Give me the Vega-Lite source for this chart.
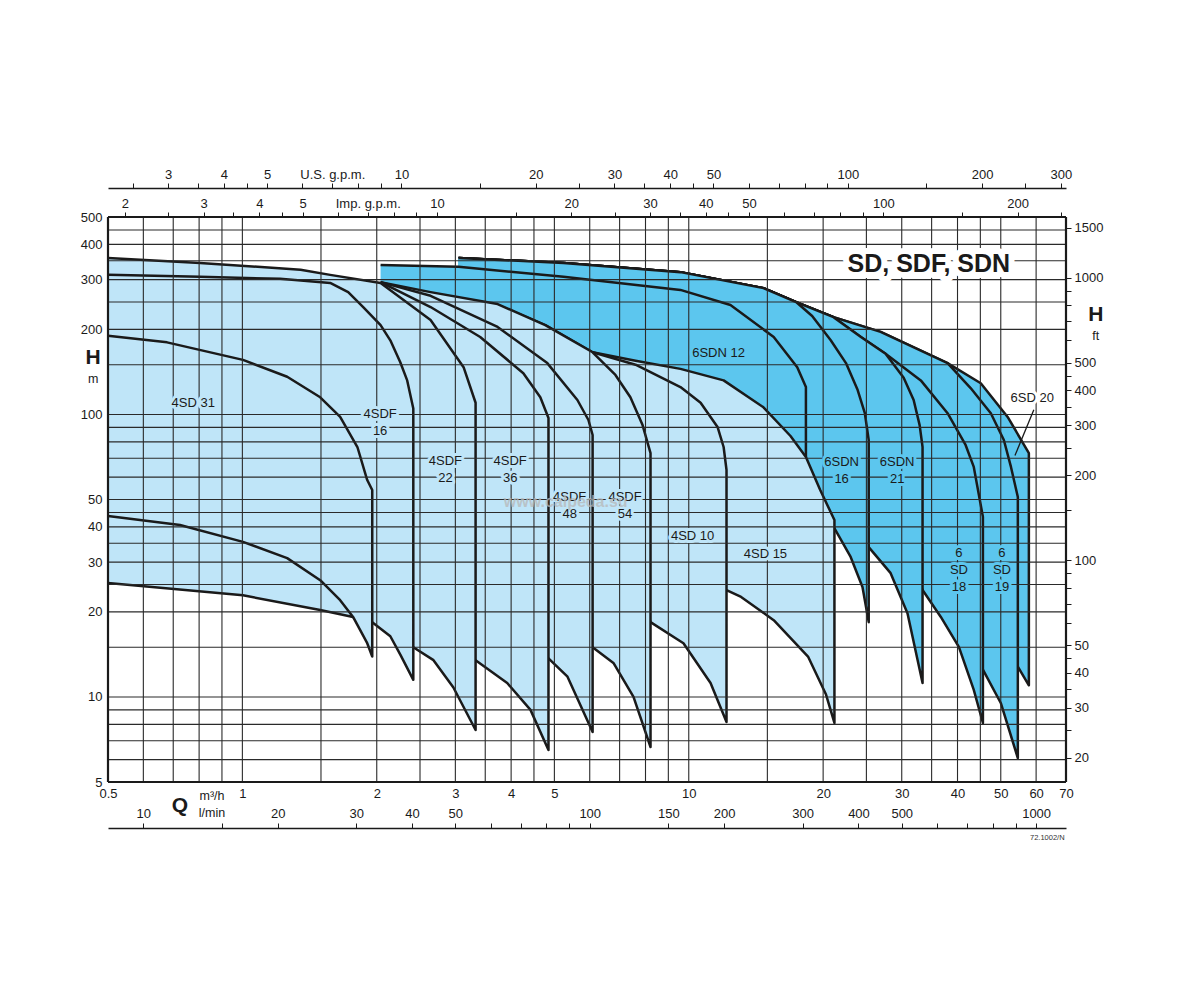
{
  "$schema": "https://vega.github.io/schema/vega-lite/v6.json",
  "width": 958,
  "height": 565,
  "autosize": {"type": "none"},
  "padding": {"left": 108, "top": 217, "right": 134, "bottom": 218},
  "background": "white",
  "config": {
    "view": {"stroke": null},
    "axis": {"labelFont": "Liberation Sans", "labelFontSize": 13, "labelColor": "#1a1a1a", "domainColor": "#1a1a1a", "tickColor": "#1a1a1a", "titleFont": "Liberation Sans"},
    "text": {"font": "Liberation Sans"}
  },
  "datasets": {
    "fam": [
      {"f":"k01","z":"d","o":1,"q":3.05,"h":358},{"f":"k01","z":"d","o":2,"q":5.24,"h":344},{"f":"k01","z":"d","o":3,"q":9.58,"h":319},{"f":"k01","z":"d","o":4,"q":14.7,"h":280},{"f":"k01","z":"d","o":5,"q":17.4,"h":250},{"f":"k01","z":"d","o":6,"q":21.1,"h":221},{"f":"k01","z":"d","o":7,"q":26.9,"h":196},{"f":"k01","z":"d","o":8,"q":38.0,"h":152},{"f":"k01","z":"d","o":9,"q":45.1,"h":129},{"f":"k01","z":"d","o":10,"q":51.8,"h":98},{"f":"k01","z":"d","o":11,"q":57.8,"h":73},{"f":"k01","z":"d","o":12,"q":57.8,"h":11.0},{"f":"k01","z":"d","o":13,"q":54.6,"h":12.8},{"f":"k01","z":"d","o":14,"q":50,"h":18.7},{"f":"k01","z":"d","o":15,"q":29.8,"h":49.8},{"f":"k01","z":"d","o":16,"q":23.05,"h":74.8},{"f":"k01","z":"d","o":17,"q":3.05,"h":254},
      {"f":"k02","z":"d","o":1,"q":3.05,"h":358},{"f":"k02","z":"d","o":2,"q":5.24,"h":344},{"f":"k02","z":"d","o":3,"q":9.58,"h":319},{"f":"k02","z":"d","o":4,"q":14.7,"h":280},{"f":"k02","z":"d","o":5,"q":17.4,"h":250},{"f":"k02","z":"d","o":6,"q":21.1,"h":221},{"f":"k02","z":"d","o":7,"q":26.9,"h":196},{"f":"k02","z":"d","o":8,"q":38.0,"h":152},{"f":"k02","z":"d","o":9,"q":42.8,"h":124},{"f":"k02","z":"d","o":10,"q":47.5,"h":101},{"f":"k02","z":"d","o":11,"q":50.8,"h":81.2},{"f":"k02","z":"d","o":12,"q":52.7,"h":65.2},{"f":"k02","z":"d","o":13,"q":54.6,"h":51},{"f":"k02","z":"d","o":14,"q":54.6,"h":6.08},{"f":"k02","z":"d","o":15,"q":50,"h":9.52},{"f":"k02","z":"d","o":16,"q":45.6,"h":12.5},{"f":"k02","z":"d","o":17,"q":40.7,"h":22},{"f":"k02","z":"d","o":18,"q":29.8,"h":49.8},{"f":"k02","z":"d","o":19,"q":23.05,"h":74.8},{"f":"k02","z":"d","o":20,"q":3.05,"h":254},
      {"f":"k03","z":"d","o":1,"q":3.05,"h":358},{"f":"k03","z":"d","o":2,"q":5.24,"h":344},{"f":"k03","z":"d","o":3,"q":9.58,"h":319},{"f":"k03","z":"d","o":4,"q":14.7,"h":280},{"f":"k03","z":"d","o":5,"q":17.4,"h":250},{"f":"k03","z":"d","o":6,"q":21.1,"h":221},{"f":"k03","z":"d","o":7,"q":24.3,"h":188},{"f":"k03","z":"d","o":8,"q":27.6,"h":164},{"f":"k03","z":"d","o":9,"q":33.1,"h":132},{"f":"k03","z":"d","o":10,"q":38.0,"h":101},{"f":"k03","z":"d","o":11,"q":41.7,"h":78},{"f":"k03","z":"d","o":12,"q":43.5,"h":65.2},{"f":"k03","z":"d","o":13,"q":45.6,"h":43.4},{"f":"k03","z":"d","o":14,"q":45.6,"h":8.09},{"f":"k03","z":"d","o":15,"q":43.5,"h":10.6},{"f":"k03","z":"d","o":16,"q":40.3,"h":15},{"f":"k03","z":"d","o":17,"q":36.7,"h":19.2},{"f":"k03","z":"d","o":18,"q":33.4,"h":23.9},{"f":"k03","z":"d","o":19,"q":29.8,"h":35.9},{"f":"k03","z":"d","o":20,"q":23.05,"h":74.8},{"f":"k03","z":"d","o":21,"q":3.05,"h":254},
      {"f":"k04","z":"d","o":1,"q":3.05,"h":358},{"f":"k04","z":"d","o":2,"q":5.24,"h":344},{"f":"k04","z":"d","o":3,"q":9.58,"h":319},{"f":"k04","z":"d","o":4,"q":14.7,"h":280},{"f":"k04","z":"d","o":5,"q":17.4,"h":250},{"f":"k04","z":"d","o":6,"q":21.1,"h":221},{"f":"k04","z":"d","o":7,"q":24.3,"h":188},{"f":"k04","z":"d","o":8,"q":27.6,"h":164},{"f":"k04","z":"d","o":9,"q":30.3,"h":135},{"f":"k04","z":"d","o":10,"q":31.9,"h":112.5},{"f":"k04","z":"d","o":11,"q":32.9,"h":91.7},{"f":"k04","z":"d","o":12,"q":33.4,"h":76.7},{"f":"k04","z":"d","o":13,"q":33.4,"h":11.2},{"f":"k04","z":"d","o":14,"q":30.9,"h":19.8},{"f":"k04","z":"d","o":15,"q":28.3,"h":27.5},{"f":"k04","z":"d","o":16,"q":25.3,"h":33.9},{"f":"k04","z":"d","o":17,"q":23.05,"h":49.8},{"f":"k04","z":"d","o":18,"q":18.27,"h":95.6},{"f":"k04","z":"d","o":19,"q":3.05,"h":254},
      {"f":"k05","z":"d","o":1,"q":3.05,"h":358},{"f":"k05","z":"d","o":2,"q":5.24,"h":344},{"f":"k05","z":"d","o":3,"q":9.58,"h":319},{"f":"k05","z":"d","o":4,"q":14.7,"h":280},{"f":"k05","z":"d","o":5,"q":17.4,"h":250},{"f":"k05","z":"d","o":6,"q":18.9,"h":223},{"f":"k05","z":"d","o":7,"q":20.8,"h":183},{"f":"k05","z":"d","o":8,"q":22.5,"h":152},{"f":"k05","z":"d","o":9,"q":23.9,"h":122},{"f":"k05","z":"d","o":10,"q":24.8,"h":101},{"f":"k05","z":"d","o":11,"q":25.3,"h":81.2},{"f":"k05","z":"d","o":12,"q":25.3,"h":18.4},{"f":"k05","z":"d","o":13,"q":24.5,"h":24.5},{"f":"k05","z":"d","o":14,"q":23.05,"h":31.3},{"f":"k05","z":"d","o":15,"q":21.3,"h":39},{"f":"k05","z":"d","o":16,"q":19.7,"h":47.8},{"f":"k05","z":"d","o":17,"q":18.3,"h":63.6},{"f":"k05","z":"d","o":18,"q":14.7,"h":81.2},{"f":"k05","z":"d","o":19,"q":9.58,"h":104},{"f":"k05","z":"d","o":20,"q":6.09,"h":117},{"f":"k05","z":"d","o":21,"q":3.05,"h":199},
      {"f":"k06","z":"d","o":1,"q":2.04,"h":338},{"f":"k06","z":"d","o":2,"q":3.05,"h":333},{"f":"k06","z":"d","o":3,"q":5.24,"h":307},{"f":"k06","z":"d","o":4,"q":9.58,"h":276},{"f":"k06","z":"d","o":5,"q":12.4,"h":244},{"f":"k06","z":"d","o":6,"q":15.5,"h":188},{"f":"k06","z":"d","o":7,"q":17.5,"h":147},{"f":"k06","z":"d","o":8,"q":18.3,"h":125},{"f":"k06","z":"d","o":9,"q":18.3,"h":70.7},{"f":"k06","z":"d","o":10,"q":14.7,"h":88.1},{"f":"k06","z":"d","o":11,"q":11.97,"h":104},{"f":"k06","z":"d","o":12,"q":9.58,"h":112.5},{"f":"k06","z":"d","o":13,"q":6.09,"h":122},{"f":"k06","z":"d","o":14,"q":3.73,"h":183},{"f":"k06","z":"d","o":15,"q":3.05,"h":216},{"f":"k06","z":"d","o":16,"q":2.04,"h":254},
      {"f":"k07","z":"l","o":1,"q":3.73,"h":244},{"f":"k07","z":"l","o":2,"q":4.77,"h":207},{"f":"k07","z":"l","o":3,"q":6.09,"h":166},{"f":"k07","z":"l","o":4,"q":7.6,"h":155},{"f":"k07","z":"l","o":5,"q":9.58,"h":145},{"f":"k07","z":"l","o":6,"q":11.97,"h":132},{"f":"k07","z":"l","o":7,"q":14.7,"h":106},{"f":"k07","z":"l","o":8,"q":16.9,"h":83.9},{"f":"k07","z":"l","o":9,"q":18.3,"h":70.7},{"f":"k07","z":"l","o":10,"q":19.7,"h":54},{"f":"k07","z":"l","o":11,"q":21.2,"h":42.3},{"f":"k07","z":"l","o":12,"q":21.2,"h":8.09},{"f":"k07","z":"l","o":13,"q":20.3,"h":10.2},{"f":"k07","z":"l","o":14,"q":18.5,"h":13.9},{"f":"k07","z":"l","o":15,"q":15.5,"h":18.7},{"f":"k07","z":"l","o":16,"q":13.1,"h":22.6},{"f":"k07","z":"l","o":17,"q":12.15,"h":23.9},{"f":"k07","z":"l","o":18,"q":8.21,"h":30.5},{"f":"k07","z":"l","o":19,"q":6.09,"h":58.6},{"f":"k07","z":"l","o":20,"q":3.73,"h":169},
      {"f":"k08","z":"l","o":1,"q":6.09,"h":166},{"f":"k08","z":"l","o":2,"q":7.6,"h":150},{"f":"k08","z":"l","o":3,"q":9.58,"h":125},{"f":"k08","z":"l","o":4,"q":10.63,"h":110},{"f":"k08","z":"l","o":5,"q":11.6,"h":90.3},{"f":"k08","z":"l","o":6,"q":11.97,"h":76.7},{"f":"k08","z":"l","o":7,"q":12.15,"h":63.6},{"f":"k08","z":"l","o":8,"q":12.15,"h":8.15},{"f":"k08","z":"l","o":9,"q":11.19,"h":11.2},{"f":"k08","z":"l","o":10,"q":9.73,"h":15.5},{"f":"k08","z":"l","o":11,"q":8.21,"h":18.4},{"f":"k08","z":"l","o":12,"q":6.68,"h":49.8},{"f":"k08","z":"l","o":13,"q":6.09,"h":112.5},
      {"f":"k09","z":"l","o":1,"q":2.04,"h":294},{"f":"k09","z":"l","o":2,"q":2.64,"h":271},{"f":"k09","z":"l","o":3,"q":3.73,"h":246},{"f":"k09","z":"l","o":4,"q":4.77,"h":207},{"f":"k09","z":"l","o":5,"q":6.09,"h":166},{"f":"k09","z":"l","o":6,"q":6.85,"h":138},{"f":"k09","z":"l","o":7,"q":7.40,"h":115},{"f":"k09","z":"l","o":8,"q":7.88,"h":91.7},{"f":"k09","z":"l","o":9,"q":8.21,"h":73},{"f":"k09","z":"l","o":10,"q":8.21,"h":6.65},{"f":"k09","z":"l","o":11,"q":7.52,"h":10},{"f":"k09","z":"l","o":12,"q":6.78,"h":13.2},{"f":"k09","z":"l","o":13,"q":6.09,"h":15},{"f":"k09","z":"l","o":14,"q":4.85,"h":33.1},{"f":"k09","z":"l","o":15,"q":3.73,"h":95.6},{"f":"k09","z":"l","o":16,"q":2.64,"h":199},{"f":"k09","z":"l","o":17,"q":2.04,"h":254},
      {"f":"k10","z":"l","o":1,"q":2.04,"h":294},{"f":"k10","z":"l","o":2,"q":2.64,"h":263},{"f":"k10","z":"l","o":3,"q":3.73,"h":204},{"f":"k10","z":"l","o":4,"q":4.82,"h":152},{"f":"k10","z":"l","o":5,"q":5.63,"h":112.5},{"f":"k10","z":"l","o":6,"q":5.96,"h":95.6},{"f":"k10","z":"l","o":7,"q":6.09,"h":84.6},{"f":"k10","z":"l","o":8,"q":6.09,"h":7.52},{"f":"k10","z":"l","o":9,"q":5.35,"h":11.8},{"f":"k10","z":"l","o":10,"q":4.85,"h":13.7},{"f":"k10","z":"l","o":11,"q":3.33,"h":30.5},{"f":"k10","z":"l","o":12,"q":2.64,"h":112.5},{"f":"k10","z":"l","o":13,"q":2.04,"h":254},
      {"f":"k11","z":"l","o":1,"q":2.04,"h":294},{"f":"k11","z":"l","o":2,"q":2.64,"h":240},{"f":"k11","z":"l","o":3,"q":3.41,"h":188},{"f":"k11","z":"l","o":4,"q":4.26,"h":140},{"f":"k11","z":"l","o":5,"q":4.65,"h":115},{"f":"k11","z":"l","o":6,"q":4.85,"h":97.1},{"f":"k11","z":"l","o":7,"q":4.85,"h":6.49},{"f":"k11","z":"l","o":8,"q":4.42,"h":9},{"f":"k11","z":"l","o":9,"q":3.92,"h":11.2},{"f":"k11","z":"l","o":10,"q":3.33,"h":13.5},{"f":"k11","z":"l","o":11,"q":2.415,"h":28.1},{"f":"k11","z":"l","o":12,"q":2.04,"h":199},
      {"f":"k12","z":"l","o":1,"q":0.5,"h":358},{"f":"k12","z":"l","o":2,"q":0.804,"h":344},{"f":"k12","z":"l","o":3,"q":1.35,"h":325},{"f":"k12","z":"l","o":4,"q":1.573,"h":312},{"f":"k12","z":"l","o":5,"q":2.04,"h":292},{"f":"k12","z":"l","o":6,"q":2.64,"h":216},{"f":"k12","z":"l","o":7,"q":3.13,"h":147},{"f":"k12","z":"l","o":8,"q":3.33,"h":110},{"f":"k12","z":"l","o":9,"q":3.33,"h":7.64},{"f":"k12","z":"l","o":10,"q":2.97,"h":10.8},{"f":"k12","z":"l","o":11,"q":2.68,"h":13.5},{"f":"k12","z":"l","o":12,"q":2.415,"h":15},{"f":"k12","z":"l","o":13,"q":1.954,"h":30.5},{"f":"k12","z":"l","o":14,"q":1.35,"h":74.8},{"f":"k12","z":"l","o":15,"q":0.5,"h":169},
      {"f":"k13","z":"l","o":1,"q":0.5,"h":312},{"f":"k13","z":"l","o":2,"q":0.804,"h":307},{"f":"k13","z":"l","o":3,"q":1.215,"h":302},{"f":"k13","z":"l","o":4,"q":1.573,"h":292},{"f":"k13","z":"l","o":5,"q":1.726,"h":271},{"f":"k13","z":"l","o":6,"q":1.865,"h":240},{"f":"k13","z":"l","o":7,"q":2.04,"h":207},{"f":"k13","z":"l","o":8,"q":2.145,"h":183},{"f":"k13","z":"l","o":9,"q":2.258,"h":153},{"f":"k13","z":"l","o":10,"q":2.34,"h":132},{"f":"k13","z":"l","o":11,"q":2.415,"h":105},{"f":"k13","z":"l","o":12,"q":2.415,"h":11.5},{"f":"k13","z":"l","o":13,"q":2.26,"h":14.1},{"f":"k13","z":"l","o":14,"q":2.145,"h":16.4},{"f":"k13","z":"l","o":15,"q":1.954,"h":18.4},{"f":"k13","z":"l","o":16,"q":1.77,"h":19.2},{"f":"k13","z":"l","o":17,"q":1.494,"h":20.3},{"f":"k13","z":"l","o":18,"q":1.003,"h":22.9},{"f":"k13","z":"l","o":19,"q":0.5,"h":25.3},
      {"f":"k14","z":"l","o":1,"q":0.5,"h":190},{"f":"k14","z":"l","o":2,"q":0.678,"h":180},{"f":"k14","z":"l","o":3,"q":1.003,"h":156},{"f":"k14","z":"l","o":4,"q":1.26,"h":136},{"f":"k14","z":"l","o":5,"q":1.494,"h":115},{"f":"k14","z":"l","o":6,"q":1.656,"h":98},{"f":"k14","z":"l","o":7,"q":1.81,"h":76.7},{"f":"k14","z":"l","o":8,"q":1.904,"h":58.6},{"f":"k14","z":"l","o":9,"q":1.954,"h":54},{"f":"k14","z":"l","o":10,"q":1.954,"h":13.9},{"f":"k14","z":"l","o":11,"q":1.904,"h":15.5},{"f":"k14","z":"l","o":12,"q":1.77,"h":19.2},{"f":"k14","z":"l","o":13,"q":1.656,"h":22},{"f":"k14","z":"l","o":14,"q":1.494,"h":25.9},{"f":"k14","z":"l","o":15,"q":1.26,"h":31},{"f":"k14","z":"l","o":16,"q":1.003,"h":35.4},{"f":"k14","z":"l","o":17,"q":0.725,"h":40.6},{"f":"k14","z":"l","o":18,"q":0.5,"h":43.7}
    ],
    "gx": [{"v":0.6},{"v":0.7},{"v":0.8},{"v":0.9},{"v":1},{"v":1.5},{"v":2},{"v":2.5},{"v":3},{"v":3.5},{"v":4},{"v":4.5},{"v":5},{"v":6},{"v":7},{"v":8},{"v":9},{"v":10},{"v":15},{"v":20},{"v":25},{"v":30},{"v":35},{"v":40},{"v":45},{"v":50},{"v":60}],
    "gy": [{"v":6},{"v":7},{"v":8},{"v":9},{"v":10},{"v":15},{"v":20},{"v":25},{"v":30},{"v":35},{"v":40},{"v":45},{"v":50},{"v":60},{"v":70},{"v":80},{"v":90},{"v":100},{"v":150},{"v":200},{"v":250},{"v":300},{"v":350},{"v":400},{"v":450}],
    "fx": [{"v":0.5},{"v":70}],
    "fy": [{"v":5},{"v":500}],
    "labels": [
      {"t":"4SD 31","q":0.776,"h":109.8,"bg":"light"},
      {"t":"4SDF\n16","q":2.035,"h":100.4,"bg":"light"},
      {"t":"4SDF\n22","q":2.85,"h":68.4,"bg":"light"},
      {"t":"4SDF\n36","q":3.98,"h":68.4,"bg":"light"},
      {"t":"4SDF\n48","q":5.41,"h":51,"bg":"light"},
      {"t":"4SDF\n54","q":7.2,"h":51,"bg":"light"},
      {"t":"4SD 10","q":10.2,"h":37.1,"bg":"light"},
      {"t":"4SD 15","q":14.85,"h":32.1,"bg":"light"},
      {"t":"6SDN 12","q":11.66,"h":165,"bg":"dark"},
      {"t":"6SDN\n16","q":22.0,"h":67.9,"bg":"dark"},
      {"t":"6SDN\n21","q":29.3,"h":67.9,"bg":"dark"},
      {"t":"6\nSD\n18","q":40.3,"h":32.3,"bg":"dark"},
      {"t":"6\nSD\n19","q":50.3,"h":32.3,"bg":"dark"},
      {"t":"6SD 20","q":58.8,"h":114.4,"bg":"white"}
    ],
    "leader": [{"o":1,"q":59.3,"h":104},{"o":2,"q":53.8,"h":71.6}],
    "title": [{"t":"SD, SDF, SDN","q":34.5,"h":341}],
    "bold": [{"t":"Q","q":0.725,"h":4.11},{"t":"H","q":0.463,"h":158},{"t":"H","q":81.6,"h":225}],
    "small": [{"t":"m³/h","q":0.855,"h":4.45},{"t":"l/min","q":0.855,"h":3.88},{"t":"m","q":0.463,"h":133},{"t":"ft","q":81.6,"h":190}],
    "code": [{"t":"72.1002/N","q":69.5,"h":3.17}],
    "mark": [{"t":"www.calpeda.su","q":5.3,"h":49}]
  },
  "layer": [
    {
      "resolve": {"axis": {"x": "independent", "y": "independent"}},
      "layer": [
        {
          "data": {"name": "fam"},
          "transform": [{"filter": "datum.z == 'd'"}],
          "mark": {"type": "line", "fill": "#5cc6ee", "stroke": "#1a1a1a", "strokeWidth": 2.5, "strokeJoin": "round"},
          "encoding": {
            "x": {"field": "q", "type": "quantitative", "scale": {"type": "log", "domain": [0.5, 70], "nice": false},
                  "axis": {"orient": "bottom", "values": [0.5,1,2,3,4,5,10,20,30,40,50,60,70], "format": "~g", "grid": false, "ticks": false, "domain": false, "labelPadding": 5, "labelFlush": false, "labelOverlap": false, "title": null}},
            "y": {"field": "h", "type": "quantitative", "scale": {"type": "log", "domain": [5, 500], "nice": false},
                  "axis": {"orient": "left", "values": [5,10,20,30,40,50,100,200,300,400,500], "format": "~g", "grid": false, "ticks": false, "domain": false, "labelPadding": 6, "labelFlush": false, "labelOverlap": false, "title": null}},
            "detail": {"field": "f"},
            "order": {"field": "o", "type": "quantitative"}
          }
        },
        {
          "data": {"name": "fam"},
          "transform": [{"filter": "datum.z == 'l'"}],
          "mark": {"type": "line", "fill": "#bfe5f8", "stroke": "#1a1a1a", "strokeWidth": 2.5, "strokeJoin": "round"},
          "encoding": {
            "x": {"field": "q", "type": "quantitative", "scale": {"type": "log", "domain": [0.5, 70], "nice": false}, "axis": null},
            "y": {"field": "h", "type": "quantitative", "scale": {"type": "log", "domain": [5, 500], "nice": false}, "axis": null},
            "detail": {"field": "f"},
            "order": {"field": "o", "type": "quantitative"}
          }
        },
        {
          "data": {"name": "gx"},
          "mark": {"type": "rule", "stroke": "#2a2a2a", "strokeWidth": 1.1},
          "encoding": {"x": {"field": "v", "type": "quantitative", "scale": {"type": "log", "domain": [0.5, 70], "nice": false}, "axis": null}}
        },
        {
          "data": {"name": "gy"},
          "mark": {"type": "rule", "stroke": "#2a2a2a", "strokeWidth": 1.1},
          "encoding": {"y": {"field": "v", "type": "quantitative", "scale": {"type": "log", "domain": [5, 500], "nice": false}, "axis": null}}
        },
        {
          "data": {"name": "fx"},
          "mark": {"type": "rule", "stroke": "#1a1a1a", "strokeWidth": 2.2},
          "encoding": {"x": {"field": "v", "type": "quantitative", "scale": {"type": "log", "domain": [0.5, 70], "nice": false}, "axis": null}}
        },
        {
          "data": {"name": "fy"},
          "mark": {"type": "rule", "stroke": "#1a1a1a", "strokeWidth": 2.2},
          "encoding": {"y": {"field": "v", "type": "quantitative", "scale": {"type": "log", "domain": [5, 500], "nice": false}, "axis": null}}
        },
        {
          "data": {"name": "leader"},
          "mark": {"type": "line", "stroke": "#1a1a1a", "strokeWidth": 1.3},
          "encoding": {
            "x": {"field": "q", "type": "quantitative", "scale": {"type": "log", "domain": [0.5, 70], "nice": false}, "axis": null},
            "y": {"field": "h", "type": "quantitative", "scale": {"type": "log", "domain": [5, 500], "nice": false}, "axis": null},
            "order": {"field": "o", "type": "quantitative"}
          }
        },
        {
          "data": {"name": "labels"},
          "mark": {"type": "text", "fontSize": 13, "lineBreak": "\n", "lineHeight": 17, "baseline": "middle", "align": "center", "strokeWidth": 6, "strokeJoin": "round"},
          "encoding": {
            "x": {"field": "q", "type": "quantitative", "scale": {"type": "log", "domain": [0.5, 70], "nice": false}, "axis": null},
            "y": {"field": "h", "type": "quantitative", "scale": {"type": "log", "domain": [5, 500], "nice": false}, "axis": null},
            "text": {"field": "t"},
            "fill": {"field": "bg", "type": "nominal", "scale": {"domain": ["light", "dark", "white"], "range": ["#bfe5f8", "#5cc6ee", "#ffffff"]}, "legend": null},
            "stroke": {"field": "bg", "type": "nominal", "scale": {"domain": ["light", "dark", "white"], "range": ["#bfe5f8", "#5cc6ee", "#ffffff"]}, "legend": null}
          }
        },
        {
          "data": {"name": "labels"},
          "mark": {"type": "text", "fontSize": 13, "lineBreak": "\n", "lineHeight": 17, "baseline": "middle", "align": "center", "fill": "#1a1a1a"},
          "encoding": {
            "x": {"field": "q", "type": "quantitative", "scale": {"type": "log", "domain": [0.5, 70], "nice": false}, "axis": null},
            "y": {"field": "h", "type": "quantitative", "scale": {"type": "log", "domain": [5, 500], "nice": false}, "axis": null},
            "text": {"field": "t"}
          }
        },
        {
          "data": {"name": "title"},
          "mark": {"type": "text", "fontSize": 25, "fontWeight": "bold", "baseline": "middle", "align": "center", "fill": "#ffffff", "stroke": "#ffffff", "strokeWidth": 12, "strokeJoin": "round"},
          "encoding": {
            "x": {"field": "q", "type": "quantitative", "scale": {"type": "log", "domain": [0.5, 70], "nice": false}, "axis": null},
            "y": {"field": "h", "type": "quantitative", "scale": {"type": "log", "domain": [5, 500], "nice": false}, "axis": null},
            "text": {"field": "t"}
          }
        },
        {
          "data": {"name": "title"},
          "mark": {"type": "text", "fontSize": 25, "fontWeight": "bold", "baseline": "middle", "align": "center", "fill": "#1a1a1a"},
          "encoding": {
            "x": {"field": "q", "type": "quantitative", "scale": {"type": "log", "domain": [0.5, 70], "nice": false}, "axis": null},
            "y": {"field": "h", "type": "quantitative", "scale": {"type": "log", "domain": [5, 500], "nice": false}, "axis": null},
            "text": {"field": "t"}
          }
        },
        {
          "data": {"name": "bold"},
          "mark": {"type": "text", "fontSize": 21, "fontWeight": "bold", "baseline": "middle", "align": "center", "fill": "#1a1a1a"},
          "encoding": {
            "x": {"field": "q", "type": "quantitative", "scale": {"type": "log", "domain": [0.5, 70], "nice": false}, "axis": null},
            "y": {"field": "h", "type": "quantitative", "scale": {"type": "log", "domain": [5, 500], "nice": false}, "axis": null},
            "text": {"field": "t"}
          }
        },
        {
          "data": {"name": "small"},
          "mark": {"type": "text", "fontSize": 12.5, "baseline": "middle", "align": "center", "fill": "#1a1a1a"},
          "encoding": {
            "x": {"field": "q", "type": "quantitative", "scale": {"type": "log", "domain": [0.5, 70], "nice": false}, "axis": null},
            "y": {"field": "h", "type": "quantitative", "scale": {"type": "log", "domain": [5, 500], "nice": false}, "axis": null},
            "text": {"field": "t"}
          }
        },
        {
          "data": {"name": "code"},
          "mark": {"type": "text", "fontSize": 7.5, "baseline": "middle", "align": "right", "fill": "#333333"},
          "encoding": {
            "x": {"field": "q", "type": "quantitative", "scale": {"type": "log", "domain": [0.5, 70], "nice": false}, "axis": null},
            "y": {"field": "h", "type": "quantitative", "scale": {"type": "log", "domain": [5, 500], "nice": false}, "axis": null},
            "text": {"field": "t"}
          }
        },
        {
          "data": {"name": "mark"},
          "mark": {"type": "text", "fontSize": 16, "fontWeight": "bold", "baseline": "middle", "align": "center", "fill": "#b8b8b8", "opacity": 0.75},
          "encoding": {
            "x": {"field": "q", "type": "quantitative", "scale": {"type": "log", "domain": [0.5, 70], "nice": false}, "axis": null},
            "y": {"field": "h", "type": "quantitative", "scale": {"type": "log", "domain": [5, 500], "nice": false}, "axis": null},
            "text": {"field": "t"}
          }
        }
      ]
    },
    {
      "data": {"values": [{"v": 10}]},
      "mark": {"type": "point", "opacity": 0},
      "encoding": {
        "x": {"field": "v", "type": "quantitative", "scale": {"type": "log", "domain": [2.2014, 308.2], "nice": false},
              "axis": {"orient": "top", "offset": 29, "values": [2.5,3,3.5,4,4.5,5,6,7,8,9,10,15,20,25,30,35,40,45,50,60,70,80,90,100,150,200,250,300], "format": "~g",
                       "labelExpr": "indexof([3,4,5,10,20,30,40,50,100,200,300], datum.value) >= 0 ? datum.label : (datum.value == 7 ? 'U.S. g.p.m.' : '')",
                       "grid": false, "domain": true, "domainWidth": 1.6, "ticks": true, "tickSize": 5, "tickWidth": 1, "labelPadding": 2, "labelFlush": false, "labelOverlap": false, "title": null}}
      }
    },
    {
      "data": {"values": [{"v": 10}]},
      "mark": {"type": "point", "opacity": 0},
      "encoding": {
        "x": {"field": "v", "type": "quantitative", "scale": {"type": "log", "domain": [1.833, 256.63], "nice": false},
              "axis": {"orient": "top", "offset": 0, "values": [2,2.5,3,3.5,4,4.5,5,6,7,8,9,10,15,20,25,30,35,40,45,50,60,70,80,90,100,150,200,250], "format": "~g",
                       "labelExpr": "indexof([2,3,4,5,10,20,30,40,50,100,200], datum.value) >= 0 ? datum.label : (datum.value == 7 ? 'Imp. g.p.m.' : '')",
                       "grid": false, "domain": false, "ticks": true, "tickSize": 5, "tickWidth": 1, "labelPadding": 2, "labelFlush": false, "labelOverlap": false, "title": null}}
      }
    },
    {
      "data": {"values": [{"v": 100}]},
      "mark": {"type": "point", "opacity": 0},
      "encoding": {
        "x": {"field": "v", "type": "quantitative", "scale": {"type": "log", "domain": [8.3333, 1166.67], "nice": false},
              "axis": {"orient": "top", "offset": -611, "values": [10,15,20,30,40,50,60,70,80,90,100,150,200,300,400,500,600,700,800,900,1000], "format": "~g",
                       "labelExpr": "indexof([10,20,30,40,50,100,150,200,300,400,500,1000], datum.value) >= 0 ? datum.label : ''",
                       "grid": false, "domain": true, "domainWidth": 1.6, "ticks": true, "tickSize": 5, "tickWidth": 1, "labelPadding": 3, "labelFlush": false, "labelOverlap": false, "title": null}}
      }
    },
    {
      "data": {"values": [{"v": 100}]},
      "mark": {"type": "point", "opacity": 0},
      "encoding": {
        "y": {"field": "v", "type": "quantitative", "scale": {"type": "log", "domain": [16.404, 1640.42], "nice": false},
              "axis": {"orient": "right", "values": [20,25,30,35,40,45,50,60,70,80,90,100,150,200,250,300,350,400,450,500,600,700,800,900,1000,1500], "format": "~g",
                       "labelExpr": "indexof([20,30,40,50,100,200,300,400,500,1000,1500], datum.value) >= 0 ? datum.label : ''",
                       "grid": false, "domain": false, "ticks": true, "tickSize": 5, "tickWidth": 1, "labelPadding": 3, "labelFlush": false, "labelOverlap": false, "title": null}}
      }
    }
  ],
  "resolve": {"scale": {"x": "independent", "y": "independent"}}
}
